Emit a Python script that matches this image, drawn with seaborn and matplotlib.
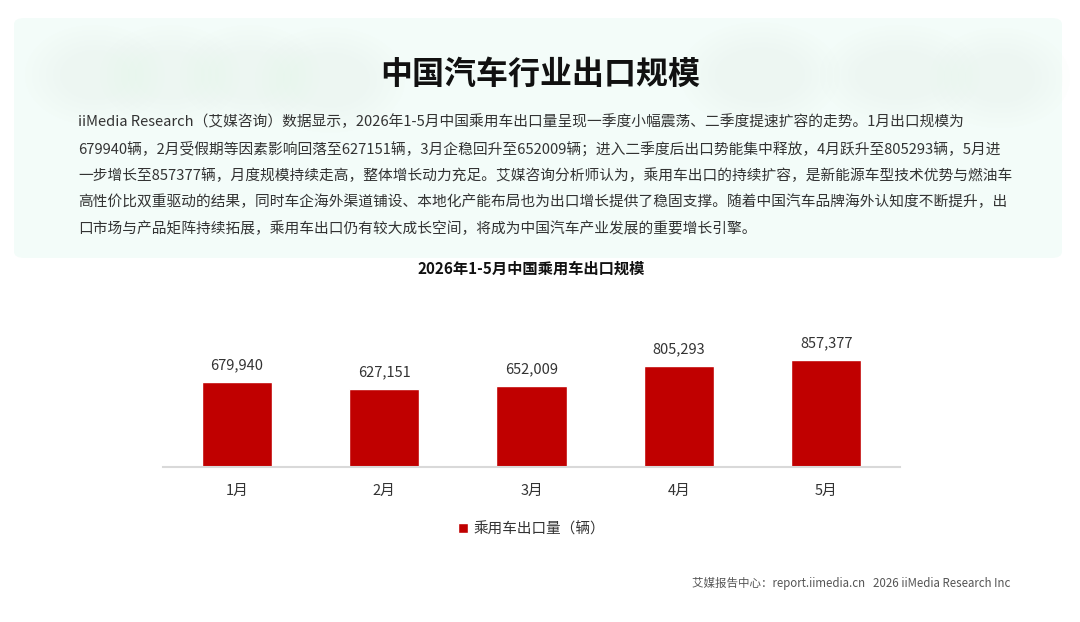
import seaborn as sns
import matplotlib.pyplot as plt
import pandas as pd
from matplotlib.patches import FancyBboxPatch, Ellipse

# data
months = ["1月", "2月", "3月", "4月", "5月"]
exports = [679940, 627151, 652009, 805293, 857377]
series_name = "乘用车出口量（辆）"

title = "中国汽车行业出口规模"
chart_title = "2026年1-5月中国乘用车出口规模"
paragraph = [
    "iiMedia Research（艾媒咨询）数据显示，2026年1-5月中国乘用车出口量呈现一季度小幅震荡、二季度提速扩容的走势。1月出口规模为",
    "679940辆，2月受假期等因素影响回落至627151辆，3月企稳回升至652009辆；进入二季度后出口势能集中释放，4月跃升至805293辆，5月进",
    "一步增长至857377辆，月度规模持续走高，整体增长动力充足。艾媒咨询分析师认为，乘用车出口的持续扩容，是新能源车型技术优势与燃油车",
    "高性价比双重驱动的结果，同时车企海外渠道铺设、本地化产能布局也为出口增长提供了稳固支撑。随着中国汽车品牌海外认知度不断提升，出",
    "口市场与产品矩阵持续拓展，乘用车出口仍有较大成长空间，将成为中国汽车产业发展的重要增长引擎。",
]
footer = "艾媒报告中心：report.iimedia.cn   2026 iiMedia Research Inc"

df = pd.DataFrame({"月份": months, "出口量": exports, "系列": series_name})

sns.set_theme(style="white")
plt.rcParams["font.family"] = ["Noto Sans CJK SC", "DejaVu Sans"]

W, H = 1080, 622
fig = plt.figure(figsize=(W / 100, H / 100), dpi=100)
fig.patch.set_facecolor("white")

# light mint header box with soft blobs
box = FancyBboxPatch((14 / W, 1 - 258 / H), (1062 - 14) / W, (258 - 18) / H,
                     boxstyle="round,pad=0,rounding_size=0.01", transform=fig.transFigure,
                     facecolor="#f3fcf9", edgecolor="none", zorder=0)
fig.patches.append(box)
for cx, cy, w, h in [(95, 75, 70, 50), (170, 75, 70, 50), (250, 75, 70, 50),
                     (330, 80, 80, 55), (760, 75, 90, 55), (900, 75, 90, 50), (1000, 78, 70, 50)]:
    for k in range(6):
        e = Ellipse((cx / W, 1 - cy / H), (w + k * 14) / W, (h + k * 10) / H,
                    transform=fig.transFigure, facecolor="#e3f6e5", edgecolor="none",
                    alpha=0.05, zorder=0)
        fig.patches.append(e)

fig.text(540 / W, 1 - 75 / H, title, ha="center", va="center", fontsize=23,
         fontweight="bold", color="#111111")

line_y = [122, 149, 176, 202, 229]
for txt, y in zip(paragraph, line_y):
    fig.text(78 / W, 1 - y / H, txt, ha="left", va="center", fontsize=10.6, color="#333333")

# bar chart
ax = fig.add_axes([163 / W, 1 - 467 / H, (900 - 163) / W, 175 / H])
sns.barplot(data=df, x="月份", y="出口量", hue="系列", palette=["#c00000"],
            width=0.475, ax=ax, saturation=1)
ax.set_ylim(0, 1402000)
ax.set_xlim(-0.5, 4.5)
ax.set_facecolor("none")
for s in ["top", "right", "left"]:
    ax.spines[s].set_visible(False)
ax.spines["bottom"].set_color("#d9d9d9")
ax.spines["bottom"].set_linewidth(1.5)
ax.set_yticks([])
ax.set_xlabel("")
ax.set_ylabel("")
ax.tick_params(axis="x", length=0, pad=12, labelsize=10.5, labelcolor="#333333")

for c in ax.containers:
    ax.bar_label(c, labels=[f"{v:,}" for v in exports], padding=7, fontsize=10.5, color="#333333")

ax.set_title(chart_title, fontsize=11, fontweight="bold", color="#111111",
             y=(467 - 269) / 175, va="center", pad=0)

leg = ax.legend(loc="center", bbox_to_anchor=(0.5, -62 / 175), frameon=False, fontsize=10.5,
                handlelength=0.7, handleheight=0.7, handletextpad=0.4)
for t in leg.get_texts():
    t.set_color("#333333")

fig.text(1010 / W, 1 - 583 / H, footer, ha="right", va="center", fontsize=8.3, color="#555555")

fig.savefig("out.png", dpi=100)
